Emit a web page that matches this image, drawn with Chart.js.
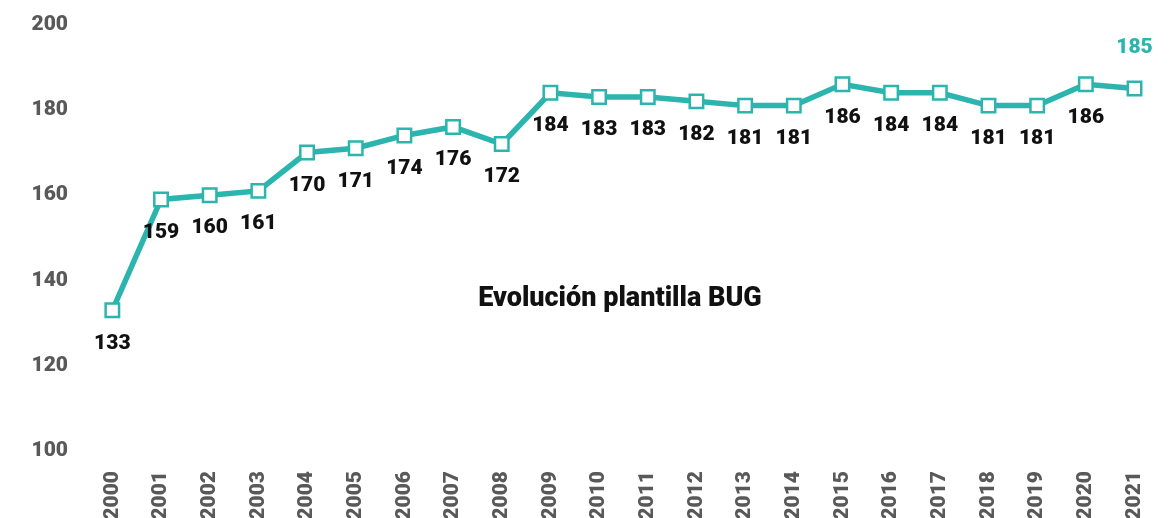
<!DOCTYPE html>
<html>
<head>
<meta charset="utf-8">
<script src="https://cdn.jsdelivr.net/npm/chart.js@4"></script>
<style>
  html, body { margin: 0; padding: 0; background: #fff; }
  #wrap { width: 1172px; height: 518px; }
</style>
</head>
<body>
<div id="wrap"><canvas id="myChart" width="1172" height="518"></canvas></div>
<script>
// data
var years = ["2000", "2001", "2002", "2003", "2004", "2005", "2006", "2007", "2008", "2009", "2010",
  "2011", "2012", "2013", "2014", "2015", "2016", "2017", "2018", "2019", "2020", "2021"];
var staff = [133, 159, 160, 161, 170, 171, 174, 176, 172, 184, 183,
  183, 182, 181, 181, 186, 184, 184, 181, 181, 186, 185];
var yTicks = [100, 120, 140, 160, 180, 200];
var chartTitle = "Evolución plantilla BUG";

var teal = "#2bb5ae";

// value labels under each point, the last one above in teal, plus title in the middle
var labelPlugin = {
  id: 'labels',
  afterDatasetsDraw: function (chart) {
    var ctx = chart.ctx;
    var meta = chart.getDatasetMeta(0);
    ctx.save();
    ctx.textAlign = 'center';
    ctx.textBaseline = 'middle';
    ctx.font = "900 21px Roboto";
    meta.data.forEach(function (pt, i) {
      var last = i == staff.length - 1;
      ctx.fillStyle = last ? teal : "#111";
      ctx.fillText(String(staff[i]), pt.x, last ? pt.y - 41 : pt.y + 33);
    });
    ctx.fillStyle = "#111";
    ctx.font = "900 27px Roboto";
    ctx.fillText(chartTitle, 620, 299);
    ctx.restore();
  }
};

var ctx = document.getElementById("myChart").getContext('2d');
var myChart = new Chart(ctx, {
  type: 'line',
  data: {
    labels: years,
    datasets: [{
      label: chartTitle,
      data: staff,
      borderColor: teal,
      borderWidth: 5.5,
      backgroundColor: "#fff",
      pointStyle: 'rect',
      pointRadius: 9.5,
      pointBorderWidth: 2.5,
      pointBorderColor: teal,
      pointBackgroundColor: "#fff",
      tension: 0
    }]
  },
  plugins: [labelPlugin],
  options: {
    responsive: false,
    animation: false,
    layout: { padding: { top: 10, right: 10, left: 0, bottom: 0 } },
    plugins: {
      legend: { display: false },
      tooltip: { enabled: false }
    },
    scales: {
      x: {
        offset: true,
        grid: { display: false },
        border: { display: false },
        afterFit: function (s) { s.height = 67; },
        ticks: {
          minRotation: 90,
          maxRotation: 90,
          padding: 12,
          color: "#595959",
          font: { family: "Roboto", weight: "900", size: 21 }
        }
      },
      y: {
        min: 100,
        max: 200,
        grid: { display: false },
        border: { display: false },
        afterFit: function (s) { s.width = 88; },
        afterBuildTicks: function (s) {
          s.ticks = yTicks.map(function (v) { return { value: v }; });
        },
        ticks: {
          padding: 12,
          color: "#595959",
          font: { family: "Roboto", weight: "900", size: 21 }
        }
      }
    }
  }
});
</script>
</body>
</html>
